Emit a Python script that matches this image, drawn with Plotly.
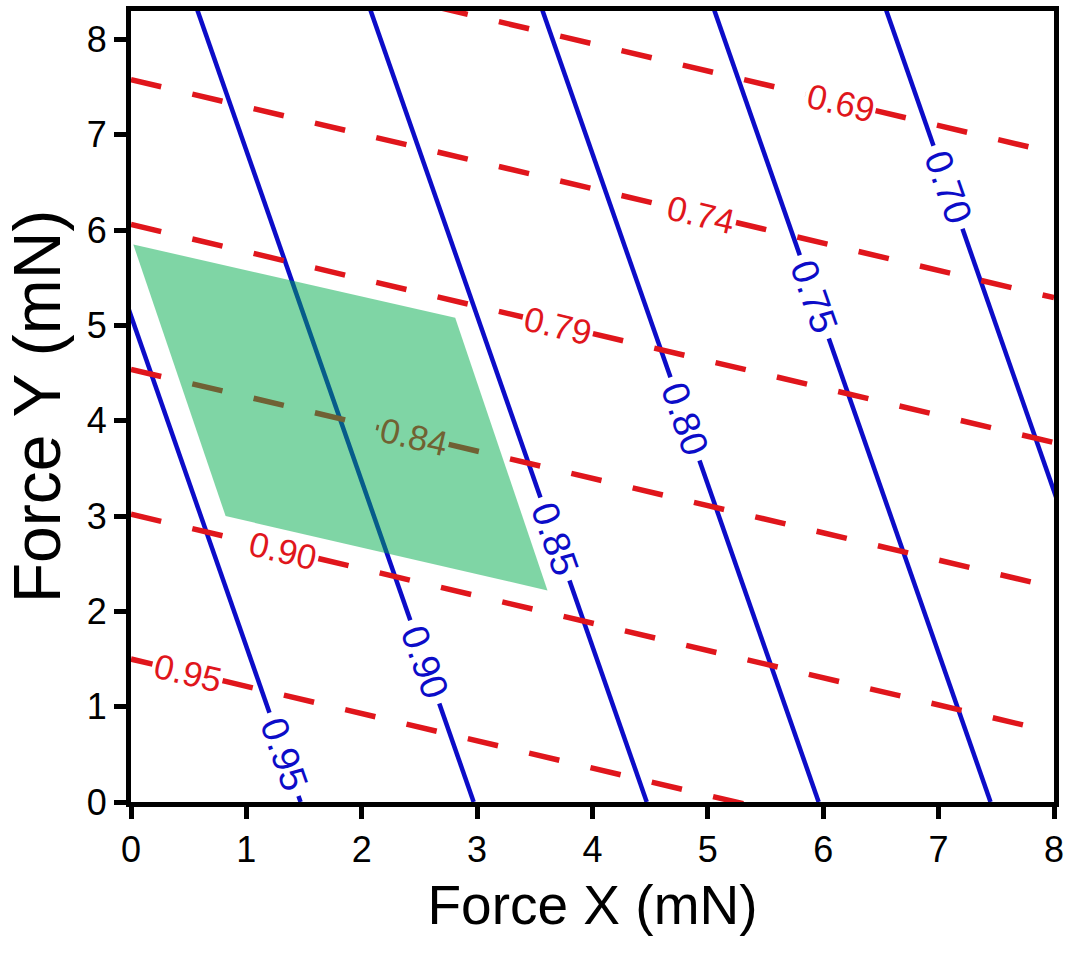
import math
import plotly.graph_objects as go

# ---- data -------------------------------------------------------------
# Solid (blue) iso-lines: level and the Force X value where each meets Force Y = 0
blue_levels = [0.95, 0.90, 0.85, 0.80, 0.75, 0.70]
blue_x_at_y0 = [1.47, 2.97, 4.47, 5.96, 7.45, 8.94]
blue_slope = 3.47          # |dy/dx| of the solid iso-lines

# Dashed (red) iso-lines: level and the Force Y value where each meets Force X = 0
red_levels = [0.95, 0.90, 0.84, 0.79, 0.74, 0.69]
red_y_at_x0 = [1.50, 3.02, 4.54, 6.06, 7.58, 9.10]
red_slope = 0.286          # |dy/dx| of the dashed iso-lines

# Shaded operating region (parallelogram corners)
region_x = [0.02, 2.81, 3.61, 0.82]
region_y = [5.85, 5.08, 2.22, 3.00]

# ---- layout constants -------------------------------------------------
W, H = 1065, 954
M_L, M_R, M_T, M_B = 131, 11, 11, 152
X_RANGE = [0, 8]
Y_RANGE = [0, 8.3]
PX_X = (W - M_L - M_R) / (X_RANGE[1] - X_RANGE[0])
PX_Y = (H - M_T - M_B) / (Y_RANGE[1] - Y_RANGE[0])

FONT = "Liberation Sans, Arial, Helvetica, sans-serif"
BLUE = "rgb(12,12,200)"
RED = "rgb(224,22,28)"
GREEN_FILL = "rgba(0,171,75,0.5)"
RED_UNDER_GREEN = "rgb(113,97,50)"

# where each inline label sits along its line
blue_label_y = [0.50, 1.47, 2.76, 4.02, 5.30, 6.45]
red_label_x = [0.49, 1.32, 2.45, 3.70, 4.94, 6.15]

red_angle = math.degrees(math.atan(red_slope * PX_Y / PX_X))
blue_angle = math.degrees(math.atan(blue_slope * PX_Y / PX_X))

RED_GAP_PX = 36     # half-gap along the line, pixels
BLUE_GAP_PX = 44
red_gap_dx = RED_GAP_PX * math.cos(math.radians(red_angle)) / PX_X
blue_gap_dy = BLUE_GAP_PX * math.sin(math.radians(blue_angle)) / PX_Y

fig = go.Figure()
annotations = []

# solid iso-lines with a break for the inline label
for lev, x0, ly in zip(blue_levels, blue_x_at_y0, blue_label_y):
    def bx(y, x0=x0):
        return x0 - y / blue_slope
    y_lo, y_hi = ly - blue_gap_dy, ly + blue_gap_dy
    xs, ys = [], []
    if y_lo > Y_RANGE[0]:
        xs += [bx(Y_RANGE[0]), bx(y_lo), None]
        ys += [Y_RANGE[0], y_lo, None]
    xs += [bx(y_hi), bx(Y_RANGE[1] + 0.2)]
    ys += [y_hi, Y_RANGE[1] + 0.2]
    fig.add_trace(go.Scatter(x=xs, y=ys, mode="lines",
                             line=dict(color=BLUE, width=4.5),
                             hoverinfo="skip", showlegend=False))
    annotations.append(dict(x=bx(ly), y=ly, xref="x", yref="y",
                            text=f"{lev:.2f}", showarrow=False,
                            textangle=blue_angle, xanchor="center", yanchor="middle",
                            font=dict(family=FONT, size=38, color=BLUE)))

# dashed iso-lines with a break for the inline label
for lev, y0, lx in zip(red_levels, red_y_at_x0, red_label_x):
    def ry(x, y0=y0):
        return y0 - red_slope * x
    x_lo, x_hi = lx - red_gap_dx, lx + red_gap_dx
    xs = [X_RANGE[0], x_lo, None, x_hi, X_RANGE[1]]
    ys = [ry(X_RANGE[0]), ry(x_lo), None, ry(x_hi), ry(X_RANGE[1])]
    fig.add_trace(go.Scatter(x=xs, y=ys, mode="lines",
                             line=dict(color=RED, width=5.5, dash="31px,32px"),
                             hoverinfo="skip", showlegend=False))
    # the label that falls inside the shaded region takes the blended tone
    inside = lev == 0.84
    annotations.append(dict(x=lx, y=ry(lx), xref="x", yref="y",
                            text=f"{lev:.2f}", showarrow=False,
                            textangle=red_angle, xanchor="center", yanchor="middle",
                            font=dict(family=FONT, size=35,
                                      color=RED_UNDER_GREEN if inside else RED)))

# shaded region drawn over the lines
fig.add_trace(go.Scatter(x=region_x + [region_x[0]], y=region_y + [region_y[0]],
                         mode="lines", fill="toself", fillcolor=GREEN_FILL,
                         line=dict(width=0), hoverinfo="skip", showlegend=False))

axis_common = dict(
    showline=True, linewidth=5, linecolor="black", mirror=True,
    ticks="outside", ticklen=12, tickwidth=5, tickcolor="black",
    showgrid=False, zeroline=False, dtick=1,
    tickfont=dict(family=FONT, size=36, color="black"),
)

fig.update_layout(
    width=W, height=H,
    margin=dict(l=M_L, r=M_R, t=M_T, b=M_B),
    paper_bgcolor="white", plot_bgcolor="white",
    xaxis=dict(range=X_RANGE, tick0=0,
               title=dict(text="Force X (mN)", standoff=18,
                          font=dict(family=FONT, size=55, color="black")),
               automargin=False, **axis_common),
    yaxis=dict(range=Y_RANGE, tick0=0,
               title=dict(text="Force Y (mN)", standoff=24,
                          font=dict(family=FONT, size=66, color="black")),
               automargin=False, **axis_common),
    annotations=annotations,
)

fig.write_html("out.html")
